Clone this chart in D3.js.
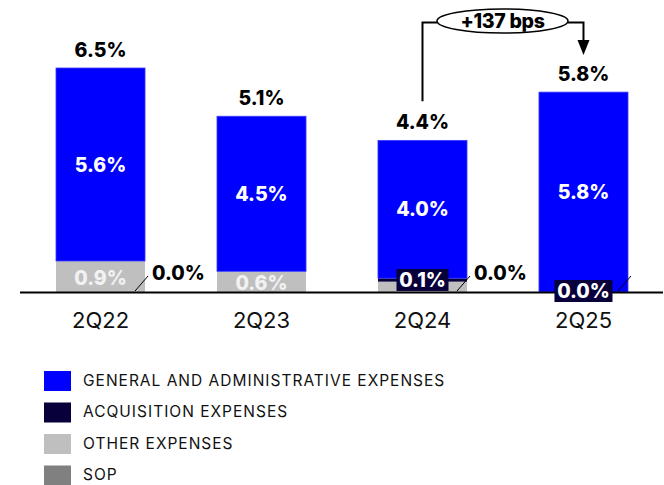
<!DOCTYPE html>
<html>
<head>
<meta charset="utf-8">
<script src="https://cdn.jsdelivr.net/npm/d3@7/dist/d3.min.js"></script>
<style>
  html, body { margin: 0; padding: 0; background: #fff; }
  svg { display: block; font-family: Inter, "Open Sans", sans-serif; }
</style>
</head>
<body>
<svg id="chart" width="664" height="485"></svg>
<script>
// Quarterly expense ratios (% of revenue)
const categories = ["2Q22", "2Q23", "2Q24", "2Q25"];
const gaValues    = [5.6, 4.5, 4.0, 5.8];   // general and administrative
const acqValues   = [0.0, 0.0, 0.1, 0.0];   // acquisition
const otherValues = [0.9, 0.6, 0.3, 0.0];   // other expenses
const sopValues   = [0.0, 0.0, 0.0, 0.0];   // SOP
const totalValues = [6.5, 5.1, 4.4, 5.8];
const changeLabel = "+137 bps";

const seriesNames = ["GENERAL AND ADMINISTRATIVE EXPENSES", "ACQUISITION EXPENSES", "OTHER EXPENSES", "SOP"];
const colors = { ga: "#0000ff", acq: "#07003a", other: "#bfbfbf", sop: "#808080" };

const svg = d3.select("#chart");

const x = d3.scaleBand().domain(categories).range([56, 628]).paddingInner(0.447).paddingOuter(0);
const y = d3.scaleLinear().domain([0, 6.5]).range([292, 68]);
const bw = x.bandwidth();

// stack from the bottom: sop, other, acquisition, G&A
const rows = categories.map((c, i) => ({
  cat: c, sop: sopValues[i], other: otherValues[i], acq: acqValues[i], ga: gaValues[i], total: totalValues[i]
}));
const keys = ["sop", "other", "acq", "ga"];
const stacked = d3.stack().keys(keys)(rows);

const g = svg.append("g");
stacked.forEach(layer => {
  g.selectAll(null).data(layer).enter().append("rect")
    .attr("x", d => x(d.data.cat))
    .attr("y", d => y(d[1]))
    .attr("width", bw)
    .attr("height", d => Math.max(0, y(d[0]) - y(d[1])))
    .attr("fill", colors[layer.key])
    .attr("stroke", layer.key === "ga" ? "#3d3dff" : "none")
    .attr("stroke-width", 0.8);
});

// baseline
svg.append("line")
  .attr("x1", 20).attr("x2", 663)
  .attr("y1", y(0) + 0.5).attr("y2", y(0) + 0.5)
  .attr("stroke", "#000").attr("stroke-width", 2);

// category axis
const axis = svg.append("g")
  .attr("transform", `translate(0,${y(0)})`)
  .call(d3.axisBottom(x).tickSize(0).tickPadding(20));
axis.select(".domain").remove();
axis.selectAll("text")
  .attr("font-family", "Inter, sans-serif")
  .attr("font-size", 22).attr("fill", "#111");

const labelFont = 19.5;

// totals above bars
svg.selectAll(".total").data(rows).enter().append("text")
  .attr("x", d => x(d.cat) + bw / 2)
  .attr("y", d => y(d.total) - 11)
  .attr("text-anchor", "middle")
  .attr("font-size", labelFont).attr("font-weight", 800).attr("fill", "#000")
  .text(d => d.total.toFixed(1) + "%");

// G&A labels
svg.selectAll(".ga").data(stacked[3]).enter().append("text")
  .attr("x", d => x(d.data.cat) + bw / 2)
  .attr("y", d => (y(d[0]) + y(d[1])) / 2)
  .attr("dy", "0.36em")
  .attr("text-anchor", "middle")
  .attr("font-size", labelFont).attr("font-weight", 800).attr("fill", "#fff")
  .text(d => d.data.ga.toFixed(1) + "%");

// other-expense labels (shown where the segment is large enough)
svg.selectAll(".oth").data(stacked[1].filter(d => d.data.other >= 0.5)).enter().append("text")
  .attr("x", d => x(d.data.cat) + bw / 2)
  .attr("y", d => (y(d[0]) + y(d[1])) / 2 + 1)
  .attr("dy", "0.36em")
  .attr("text-anchor", "middle")
  .attr("font-size", labelFont).attr("font-weight", 800).attr("fill", "#f2f2f2")
  .text(d => d.data.other.toFixed(1) + "%");

// acquisition labels in dark boxes
const acqShown = stacked[2].filter(d => d.data.cat === "2Q24" || d.data.cat === "2Q25");
const acqG = svg.selectAll(".acq").data(acqShown).enter().append("g")
  .attr("transform", d => `translate(${x(d.data.cat) + bw / 2},${Math.min((y(d[0]) + y(d[1])) / 2, y(0) - 1)})`);
acqG.append("rect")
  .attr("x", d => d.data.cat === "2Q25" ? -29 : -26).attr("y", -11)
  .attr("width", d => d.data.cat === "2Q25" ? 58 : 52).attr("height", 22)
  .attr("fill", colors.acq);
acqG.append("text")
  .attr("dy", "0.36em").attr("text-anchor", "middle")
  .attr("font-size", labelFont).attr("font-weight", 800).attr("fill", "#fff")
  .text(d => d.data.acq.toFixed(1) + "%");

// SOP leader lines and labels
const sopLabelled = ["2Q22", "2Q24"];
const sopLines = ["2Q22", "2Q24", "2Q25"];
svg.selectAll(".sopline").data(rows.filter(d => sopLines.includes(d.cat))).enter().append("line")
  .attr("x1", d => x(d.cat) + bw - 10).attr("y1", y(0) - 1)
  .attr("x2", d => x(d.cat) + bw + 3).attr("y2", y(0) - 16)
  .attr("stroke", "#000").attr("stroke-width", 1);
svg.selectAll(".soplbl").data(rows.filter(d => sopLabelled.includes(d.cat))).enter().append("text")
  .attr("x", d => x(d.cat) + bw + 7)
  .attr("y", y(0) - 12)
  .attr("font-size", labelFont).attr("font-weight", 800).attr("fill", "#000")
  .text(d => d.sop.toFixed(1) + "%");

// change annotation between 2Q24 and 2Q25
const xa = x("2Q24") + bw / 2, xb = x("2Q25") + bw / 2;
const yTop = 22.5;
const ex = 502.5, erx = 65.5, ery = 12;
svg.append("path")
  .attr("d", `M${xa},${y(totalValues[2]) - 39} V${yTop} H${ex - erx} M${ex + erx},${yTop} H${xb} V${y(totalValues[3]) - 48}`)
  .attr("fill", "none").attr("stroke", "#000").attr("stroke-width", 2);
svg.append("path")
  .attr("d", `M${xb - 6},${y(totalValues[3]) - 52} L${xb + 6},${y(totalValues[3]) - 52} L${xb},${y(totalValues[3]) - 37} Z`)
  .attr("fill", "#000");
svg.append("ellipse")
  .attr("cx", ex).attr("cy", 21).attr("rx", erx).attr("ry", ery)
  .attr("fill", "#fff").attr("stroke", "#000").attr("stroke-width", 1.5);
svg.append("text")
  .attr("x", ex).attr("y", 21).attr("dy", "0.36em")
  .attr("text-anchor", "middle")
  .attr("font-size", 19.5).attr("font-weight", 800).attr("fill", "#000")
  .attr("letter-spacing", -0.3)
  .text(changeLabel);

// legend
const legendKeys = ["ga", "acq", "other", "sop"];
const lg = svg.selectAll(".lg").data(legendKeys).enter().append("g")
  .attr("transform", (d, i) => `translate(44,${371 + i * 31.5})`);
lg.append("rect").attr("width", 27).attr("height", 20).attr("fill", d => colors[d]);
lg.append("text")
  .attr("x", 39).attr("y", 14.8)
  .attr("font-size", 15.5).attr("fill", "#111").attr("letter-spacing", 1.0)
  .text((d, i) => seriesNames[i]);
</script>
</body>
</html>
